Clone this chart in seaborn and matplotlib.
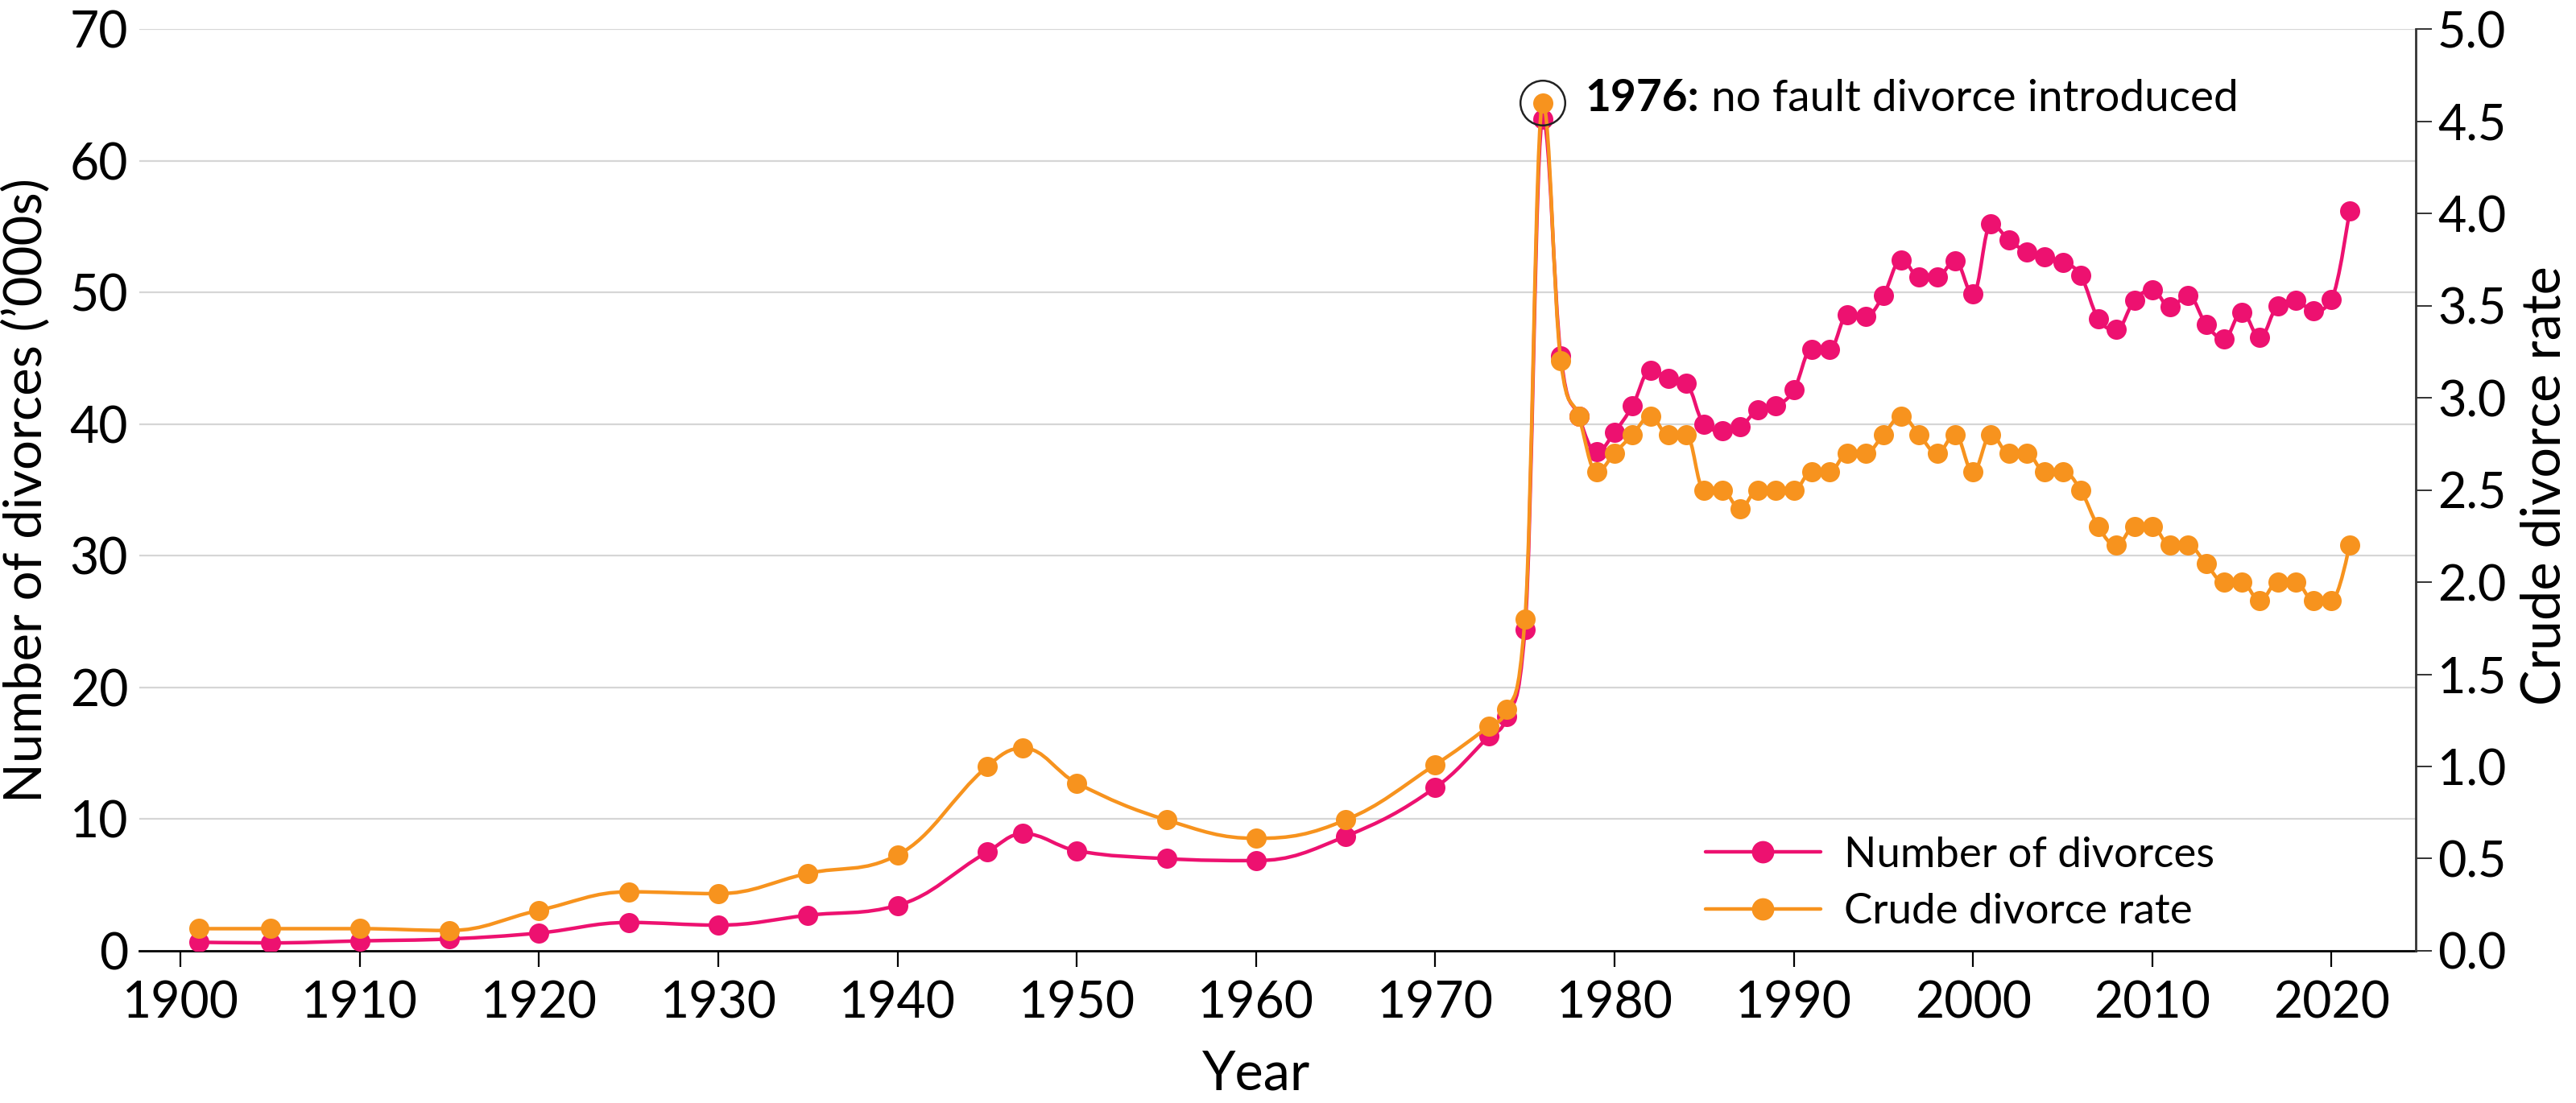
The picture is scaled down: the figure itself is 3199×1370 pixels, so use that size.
import matplotlib
matplotlib.use('Agg')
import matplotlib.pyplot as plt
from matplotlib.path import Path
from matplotlib.patches import PathPatch
from matplotlib.lines import Line2D
import seaborn as sns
import pandas as pd

# data
years = [1901, 1905, 1910, 1915, 1920, 1925, 1930, 1935, 1940, 1945, 1947,
         1950, 1955, 1960, 1965, 1970, 1973, 1974, 1975,
         1976, 1977, 1978, 1979, 1980, 1981, 1982, 1983, 1984, 1985, 1986,
         1987, 1988, 1989, 1990, 1991, 1992, 1993, 1994, 1995, 1996, 1997,
         1998, 1999, 2000, 2001, 2002, 2003, 2004, 2005, 2006, 2007, 2008,
         2009, 2010, 2011, 2012, 2013, 2014, 2015, 2016, 2017, 2018, 2019,
         2020, 2021]
divorces = [0.65, 0.6, 0.75, 0.9, 1.35, 2.15, 1.95, 2.7, 3.45, 7.5, 8.9,
            7.6, 7.0, 6.85, 8.7, 12.4, 16.3, 17.8, 24.4,
            63.2, 45.2, 40.6, 37.9, 39.4, 41.4, 44.1, 43.5, 43.1, 40.0, 39.5,
            39.8, 41.1, 41.4, 42.6, 45.7, 45.7, 48.3, 48.2, 49.8, 52.5, 51.2,
            51.2, 52.4, 49.9, 55.2, 54.0, 53.1, 52.7, 52.3, 51.3, 48.0, 47.2,
            49.4, 50.2, 48.9, 49.8, 47.6, 46.5, 48.5, 46.6, 49.0, 49.4, 48.6,
            49.5, 56.2]
crude_rate = [0.12, 0.12, 0.12, 0.11, 0.22, 0.32, 0.31, 0.42, 0.52, 1.0, 1.1,
              0.91, 0.71, 0.61, 0.71, 1.01, 1.22, 1.31, 1.8,
              4.6, 3.2, 2.9, 2.6, 2.7, 2.8, 2.9, 2.8, 2.8, 2.5, 2.5,
              2.4, 2.5, 2.5, 2.5, 2.6, 2.6, 2.7, 2.7, 2.8, 2.9, 2.8,
              2.7, 2.8, 2.6, 2.8, 2.7, 2.7, 2.6, 2.6, 2.5, 2.3, 2.2,
              2.3, 2.3, 2.2, 2.2, 2.1, 2.0, 2.0, 1.9, 2.0, 2.0, 1.9,
              1.9, 2.2]
x_ticks = [1900, 1910, 1920, 1930, 1940, 1950, 1960, 1970, 1980, 1990, 2000, 2010, 2020]
left_ticks = [0, 10, 20, 30, 40, 50, 60, 70]
right_ticks = [0.0, 0.5, 1.0, 1.5, 2.0, 2.5, 3.0, 3.5, 4.0, 4.5, 5.0]

df = pd.DataFrame({'year': years, 'divorces': divorces, 'rate': crude_rate})

PINK = '#ED1170'
ORANGE = '#F7931E'

sns.set_theme(style='white')
plt.rcParams['font.family'] = ['Lato', 'DejaVu Sans']
plt.rcParams['text.color'] = 'black'
plt.rcParams['axes.labelcolor'] = 'black'
plt.rcParams['xtick.color'] = 'black'
plt.rcParams['ytick.color'] = 'black'


def spline_path(xs, ys):
    # smooth curve through the points (same idea as a highcharts spline)
    n = len(xs)
    lc = [(xs[i], ys[i]) for i in range(n)]
    rc = [(xs[i], ys[i]) for i in range(n)]
    for i in range(1, n - 1):
        x, y = xs[i], ys[i]
        lx, ly = xs[i - 1], ys[i - 1]
        nx, ny = xs[i + 1], ys[i + 1]
        lcx = (1.5 * x + lx) / 2.5
        lcy = (1.5 * y + ly) / 2.5
        rcx = (1.5 * x + nx) / 2.5
        rcy = (1.5 * y + ny) / 2.5
        corr = (rcy - lcy) * (rcx - x) / (rcx - lcx) + y - rcy
        lcy += corr
        rcy += corr
        if lcy > ly and lcy > y:
            lcy = max(ly, y); rcy = 2 * y - lcy
        elif lcy < ly and lcy < y:
            lcy = min(ly, y); rcy = 2 * y - lcy
        if rcy > ny and rcy > y:
            rcy = max(ny, y); lcy = 2 * y - rcy
        elif rcy < ny and rcy < y:
            rcy = min(ny, y); lcy = 2 * y - rcy
        lc[i] = (lcx, lcy)
        rc[i] = (rcx, rcy)
    verts = [(xs[0], ys[0])]
    codes = [Path.MOVETO]
    for i in range(1, n):
        verts += [rc[i - 1], lc[i], (xs[i], ys[i])]
        codes += [Path.CURVE4] * 3
    return Path(verts, codes)


fig = plt.figure(figsize=(15.995, 6.85), dpi=200)
ax = fig.add_axes([0.0541, 0.138, 0.8837, 0.8354])
ax2 = ax.twinx()

# number of divorces on the left axis
ax.add_patch(PathPatch(spline_path(df['year'].tolist(), df['divorces'].tolist()),
                       facecolor='none', edgecolor=PINK, lw=1.6, zorder=2))
sns.scatterplot(data=df, x='year', y='divorces', ax=ax, color=PINK, s=81,
                linewidth=0, zorder=3, legend=False)

# crude rate on the right axis
ax2.add_patch(PathPatch(spline_path(df['year'].tolist(), df['rate'].tolist()),
                        facecolor='none', edgecolor=ORANGE, lw=1.6, zorder=2))
sns.scatterplot(data=df, x='year', y='rate', ax=ax2, color=ORANGE, s=81,
                linewidth=0, zorder=3, legend=False)

ax.set_xlim(1897.7, 2024.7)
ax.set_ylim(0, 70)
ax2.set_ylim(0, 5)
ax.set_xticks(x_ticks)
ax.set_yticks(left_ticks)
ax2.set_yticks(right_ticks)
ax2.set_yticklabels([f'{v:.1f}' for v in right_ticks])

ax.grid(axis='y', color='#D6D6D6', lw=0.8)
ax.grid(axis='x', visible=False)
ax.set_axisbelow(True)

for s in ['top', 'left', 'right']:
    ax.spines[s].set_visible(False)
ax.spines['bottom'].set_color('black')
ax.spines['bottom'].set_linewidth(1.0)
for s in ['top', 'left', 'bottom']:
    ax2.spines[s].set_visible(False)
ax2.spines['right'].set_color('#333333')
ax2.spines['right'].set_linewidth(1.0)

ax.tick_params(axis='x', direction='out', length=7.2, width=0.8, color='black',
               pad=6, labelsize=22.5, bottom=True, labelcolor='black')
ax.tick_params(axis='y', length=0, pad=5, labelsize=22.5, labelcolor='black')
ax2.tick_params(axis='y', direction='out', length=7.2, width=0.7, color='#333333',
                pad=2.5, labelsize=22, right=True, labelcolor='black')

ax.set_xlabel('Year', fontsize=24, va='baseline')
ax.xaxis.set_label_coords(0.4906, -0.1512)
ax.set_ylabel("Number of divorces (’000s)", fontsize=23.5, va='center')
ax.yaxis.set_label_coords(-0.0499, 0.5)
ax2.set_ylabel('Crude divorce rate', fontsize=24, va='center', rotation=90)
ax2.yaxis.set_label_coords(1.0566, 0.505)

# 1976 annotation
ax2.scatter([1976], [4.6], s=400, facecolors='none', edgecolors='#222222',
            linewidths=0.9, zorder=5)
t1 = ax2.annotate('1976:', xy=(1976, 4.6), xytext=(19, -3.6), textcoords='offset points',
                  fontsize=19.8, fontweight='bold', ha='left', va='baseline', zorder=6)
ax2.annotate(' no fault divorce introduced', xy=(1, 0), xycoords=t1,
             fontsize=19.8, ha='left', va='bottom', zorder=6)

handles = [Line2D([], [], color=PINK, lw=1.6, marker='o', markersize=9),
           Line2D([], [], color=ORANGE, lw=1.6, marker='o', markersize=9)]
fig.legend(handles, ['Number of divorces', 'Crude divorce rate'],
           loc='center left', bbox_to_anchor=(0.6621, 0.1989), frameon=False,
           fontsize=19, handlelength=2.7, handletextpad=0.55,
           labelspacing=0.45, borderpad=0, borderaxespad=0)

fig.savefig('out.png', dpi=200)
